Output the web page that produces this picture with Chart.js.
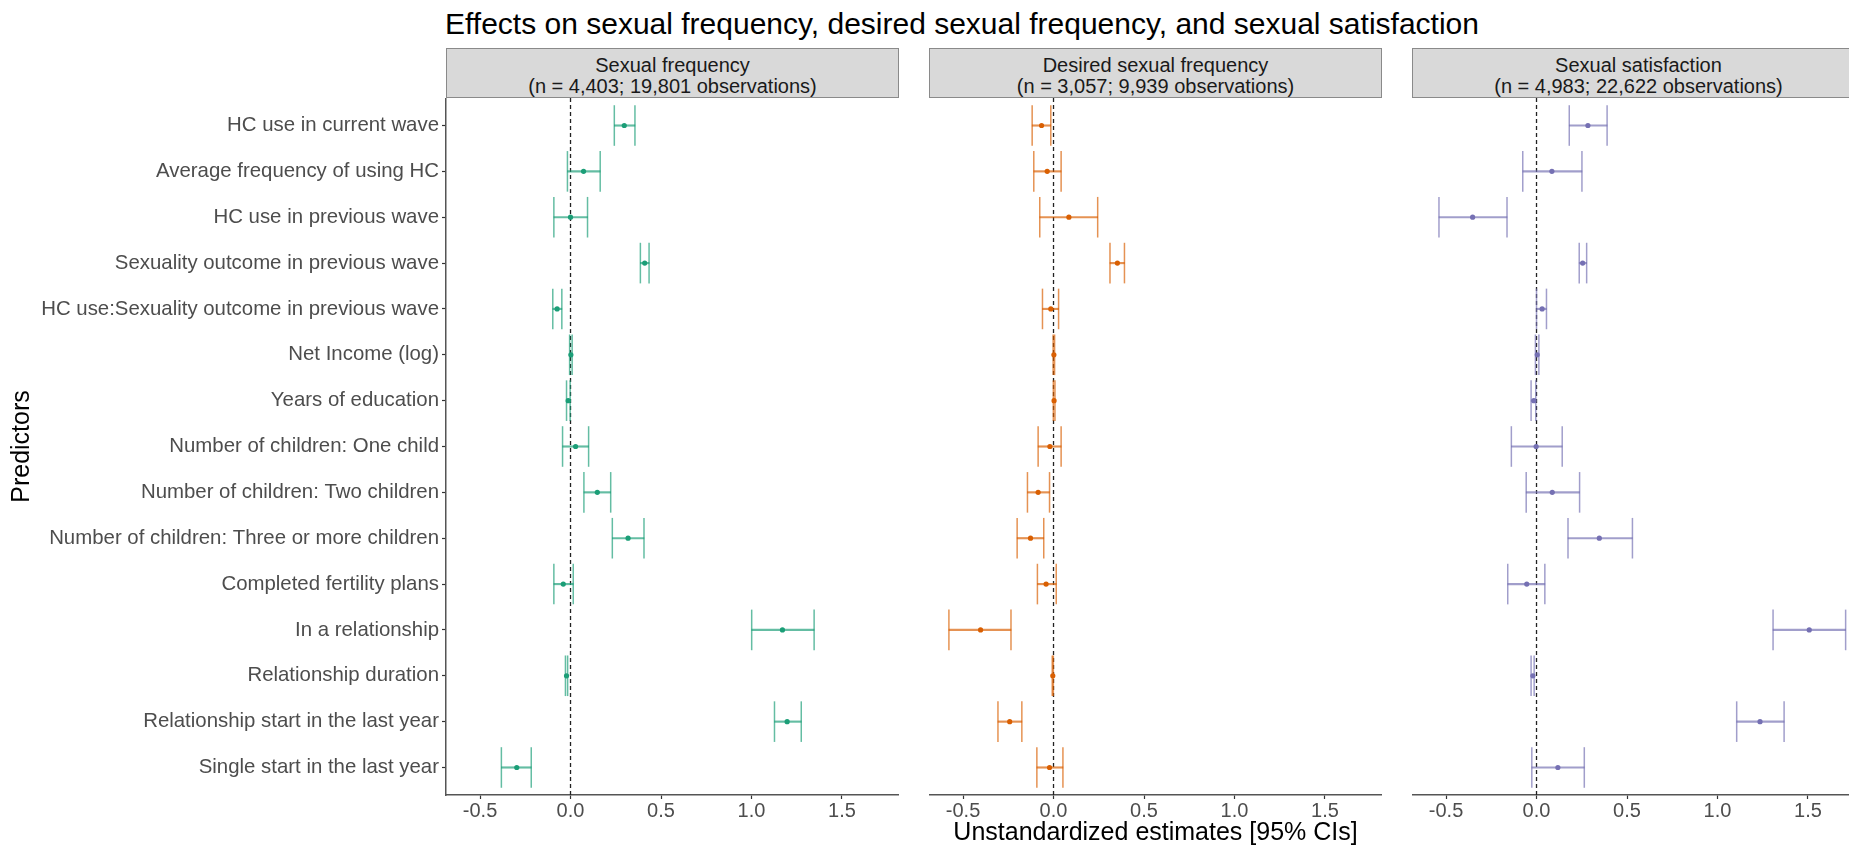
<!DOCTYPE html>
<html><head><meta charset="utf-8">
<script src="https://cdn.jsdelivr.net/npm/chart.js@4.4.1/dist/chart.umd.min.js"></script>
<style>
html,body{margin:0;padding:0;width:1849px;height:846px;overflow:hidden;background:#fff;font-family:"Liberation Sans",Arial,sans-serif;}
#title{position:absolute;left:445px;top:7px;font-size:30px;line-height:34px;color:#000;white-space:nowrap;}
.strip{position:absolute;top:48px;height:50px;width:453px;box-sizing:border-box;background:#d9d9d9;border:1.5px solid #8a8a8a;text-align:center;font-size:20px;line-height:21px;color:#1a1a1a;padding-top:6px;white-space:nowrap;}
canvas{position:absolute;top:98px;}
</style></head>
<body>
<div id="title">Effects on sexual frequency, desired sexual frequency, and sexual satisfaction</div>
<div class="strip" style="left:446px">Sexual frequency<br>(n = 4,403; 19,801 observations)</div>
<div class="strip" style="left:929px">Desired sexual frequency<br>(n = 3,057; 9,939 observations)</div>
<div class="strip" style="left:1412px">Sexual satisfaction<br>(n = 4,983; 22,622 observations)</div>
<canvas id="c1" width="899" height="762" style="left:0px"></canvas>
<canvas id="c2" width="453" height="762" style="left:929px"></canvas>
<canvas id="c3" width="453" height="762" style="left:1412px"></canvas>
<script>
const predictors = [
  "HC use in current wave",
  "Average frequency of using HC",
  "HC use in previous wave",
  "Sexuality outcome in previous wave",
  "HC use:Sexuality outcome in previous wave",
  "Net Income (log)",
  "Years of education",
  "Number of children: One child",
  "Number of children: Two children",
  "Number of children: Three or more children",
  "Completed fertility plans",
  "In a relationship",
  "Relationship duration",
  "Relationship start in the last year",
  "Single start in the last year"
];

// Sexual frequency
const freqEst  = [0.297, 0.072, 0.000, 0.410, -0.074, 0.002, -0.013, 0.028, 0.148, 0.318, -0.040, 1.171, -0.022, 1.197, -0.297];
const freqLow  = [0.242, -0.017, -0.092, 0.386, -0.098, -0.005, -0.022, -0.044, 0.074, 0.231, -0.092, 1.001, -0.028, 1.127, -0.382];
const freqHigh = [0.356, 0.164, 0.094, 0.434, -0.048, 0.009, -0.002, 0.100, 0.222, 0.406, 0.015, 1.346, -0.016, 1.275, -0.217];

// Desired sexual frequency
const desEst  = [-0.066, -0.035, 0.085, 0.353, -0.015, 0.002, 0.003, -0.020, -0.085, -0.127, -0.041, -0.403, -0.004, -0.242, -0.022];
const desLow  = [-0.118, -0.109, -0.076, 0.312, -0.061, -0.002, -0.001, -0.085, -0.144, -0.201, -0.089, -0.578, -0.007, -0.307, -0.092];
const desHigh = [-0.015, 0.042, 0.244, 0.392, 0.028, 0.006, 0.008, 0.042, -0.022, -0.054, 0.015, -0.235, -0.001, -0.175, 0.052];

// Sexual satisfaction
const satEst  = [0.284, 0.085, -0.353, 0.255, 0.031, 0.004, -0.015, -0.002, 0.087, 0.347, -0.054, 1.507, -0.020, 1.235, 0.118];
const satLow  = [0.181, -0.076, -0.539, 0.236, 0.000, -0.006, -0.030, -0.139, -0.057, 0.174, -0.159, 1.307, -0.030, 1.106, -0.026];
const satHigh = [0.390, 0.251, -0.163, 0.277, 0.055, 0.013, -0.004, 0.142, 0.238, 0.530, 0.046, 1.708, -0.013, 1.368, 0.264];

const xTicks = [-0.5, 0.0, 0.5, 1.0, 1.5];
const xMin = -0.688, xMax = 1.815;
const yMin = 0.4, yMax = predictors.length + 0.6;
const xTitle = "Unstandardized estimates [95% CIs]";
const yTitle = "Predictors";

const FONT = '"Liberation Sans", Arial, sans-serif';

function zeroPad(s) { s.paddingTop = 0; s.paddingBottom = 0; s.paddingLeft = 0; s.paddingRight = 0; }

function panel(id, est, lo, hi, rgb, showY, showXTitle) {
  const rows = predictors.map((_, i) => i + 1);
  const solid = 'rgb(' + rgb + ')';
  const faded = 'rgba(' + rgb + ',0.68)';
  new Chart(document.getElementById(id), {
    type: 'scatter',
    data: {
      datasets: [
        { type: 'line', data: [{x: 0, y: yMin}, {x: 0, y: yMax}], borderColor: '#222', borderWidth: 1.3,
          borderDash: [4, 3], pointRadius: 0, order: 4 },
        { type: 'bar', indexAxis: 'y', data: rows.map((r, i) => ({y: r, x: [lo[i], hi[i]]})),
          backgroundColor: faded, borderWidth: 0, barThickness: 1.5, order: 3 },
        { type: 'scatter', data: rows.flatMap((r, i) => [{x: lo[i], y: r}, {x: hi[i], y: r}]),
          pointStyle: 'line', rotation: 90, radius: 20.3, hoverRadius: 20.3, borderColor: faded,
          backgroundColor: faded, borderWidth: 1.5, order: 2 },
        { type: 'scatter', data: rows.map((r, i) => ({x: est[i], y: r})),
          pointRadius: 2.6, hoverRadius: 2.6, backgroundColor: solid, borderWidth: 0, order: 1 }
      ]
    },
    options: {
      responsive: false,
      animation: false,
      events: [],
      layout: { padding: 0, autoPadding: false },
      plugins: { legend: { display: false }, tooltip: { enabled: false }, title: { display: false } },
      scales: {
        x: {
          type: 'linear', min: xMin, max: xMax, offset: false, beginAtZero: false,
          afterBuildTicks: s => { s.ticks = xTicks.map(v => ({value: v})); },
          afterFit: s => { s.height = 65; zeroPad(s); },
          grid: { offset: false, drawOnChartArea: false, drawTicks: true, tickLength: 4, tickColor: '#333', tickWidth: 1.2 },
          border: { display: true, color: '#555', width: 1.5 },
          ticks: { padding: 2, autoSkip: false, maxRotation: 0, color: '#4d4d4d',
                   font: { family: FONT, size: 20, lineHeight: 1 }, callback: v => Number(v).toFixed(1) },
          title: { display: showXTitle, text: xTitle, color: '#000',
                   font: { family: FONT, size: 25, lineHeight: 1 }, padding: { top: 0, bottom: 14 } }
        },
        y: {
          type: 'linear', reverse: true, min: yMin, max: yMax, display: showY, offset: false,
          afterBuildTicks: s => { s.ticks = rows.map(v => ({value: v})); },
          afterFit: s => { s.width = showY ? 446 : 0; zeroPad(s); },
          grid: { offset: false, drawOnChartArea: false, drawTicks: true, tickLength: 4, tickColor: '#333', tickWidth: 1.2 },
          border: { display: true, color: '#555', width: 1.5 },
          ticks: { padding: 3, autoSkip: false, color: '#4d4d4d',
                   font: { family: FONT, size: 20.4 }, callback: v => predictors[v - 1] },
          title: { display: true, text: yTitle, color: '#000',
                   font: { family: FONT, size: 25, lineHeight: 1 }, padding: { top: 10, bottom: 0 } }
        }
      }
    }
  });
}

panel('c1', freqEst, freqLow, freqHigh, '27,158,119', true, false);
panel('c2', desEst, desLow, desHigh, '217,95,2', false, true);
panel('c3', satEst, satLow, satHigh, '117,112,179', false, false);
</script>
</body></html>
